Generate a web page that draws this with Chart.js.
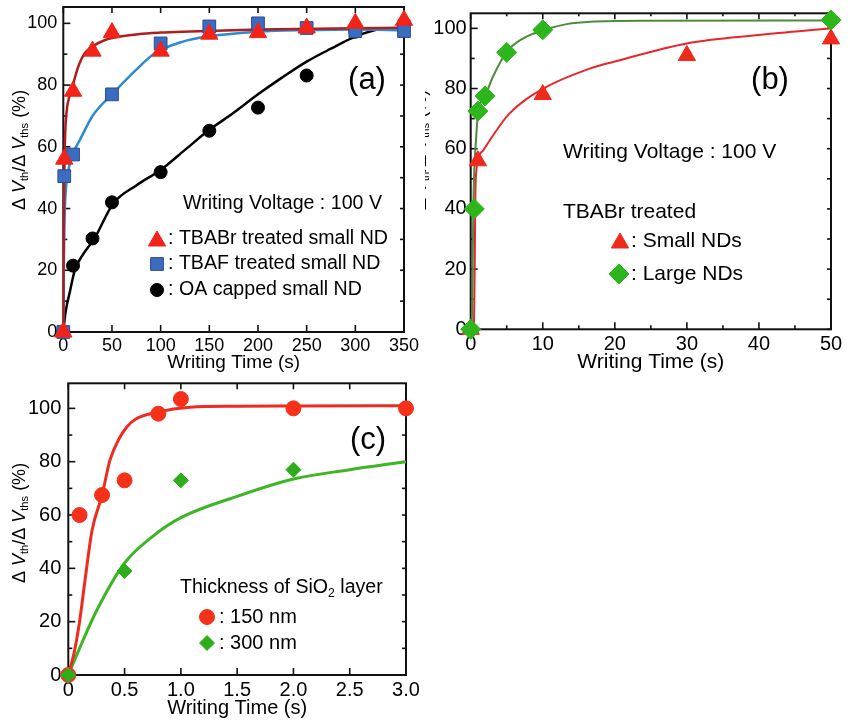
<!DOCTYPE html>
<html>
<head>
<meta charset="utf-8">
<script src="https://cdn.jsdelivr.net/npm/chart.js@4.4.0/dist/chart.umd.min.js"></script>
<style>
  html, body { margin: 0; padding: 0; background: #fff; overflow: hidden; width: 850px; height: 721px; }
  .panel { position: absolute; }
</style>
</head>
<body>
<div class="panel" id="pa" style="left:0px;top:-13px;width:435px;height:393px"><canvas id="ca"></canvas></div>
<div class="panel" id="pb" style="left:425px;top:-7px;width:435px;height:387px"><canvas id="cb"></canvas></div>
<div class="panel" id="pc" style="left:0px;top:363px;width:436px;height:358px"><canvas id="cc"></canvas></div>
<script>
// ---- panel (a) data ----
const aTBABrTime = [0, 1, 10, 30, 50, 100, 150, 200, 250, 300, 350];
const aTBABr     = [0, 56, 78, 91, 97, 91, 96.5, 97, 98.5, 100, 101];
const aTBAFTime  = [0, 1, 10, 50, 100, 150, 200, 250, 300, 350];
const aTBAF      = [0, 50.5, 57.5, 77, 93.5, 99, 100, 98.5, 97.5, 97.5];
const aOATime    = [0, 10, 30, 50, 100, 150, 200, 250, 300, 350];
const aOA        = [0, 21.5, 30.3, 42, 51.8, 65.2, 72.7, 83.1, 97.3, 100];
// fitted curves
const aFitRedTime = [0, 0.3, 0.7, 1.2, 1.7, 2.5, 4, 6, 8.6, 12, 16, 22, 30, 43, 60, 77, 100, 122, 200, 350];
const aFitRed     = [0, 20, 40, 54, 62, 68, 73, 76, 78.4, 82.5, 86.5, 90.3, 92.5, 94.6, 95.8, 96.5, 97, 97.3, 98, 98.6];
const aFitBlueTime = [0, 0.5, 1, 2, 4, 7, 10, 17, 30, 51, 75, 94, 122, 150, 200, 250, 300, 350];
const aFitBlue     = [0, 20, 33, 43, 50, 55, 58, 62.2, 70, 77.3, 85, 90.3, 94, 95.8, 97.3, 97.8, 98, 97.8];
const aFitOATime = [0, 1.7, 3.4, 6, 12, 20, 32, 51, 75, 100, 125, 150, 175, 200, 225, 250, 275, 300, 329, 350];
const aFitOA     = [0, 5, 8.3, 12, 20.2, 25, 30.3, 41.5, 47.5, 52.5, 59, 65.5, 71, 77, 82.5, 87.6, 91.8, 95.7, 98.3, 98.5];
const aXTicks = [0, 50, 100, 150, 200, 250, 300, 350];
const aYTicks = [0, 20, 40, 60, 80, 100];
const aYMinor = [10, 30, 50, 70, 90];

// ---- panel (b) data ----
const bSmallTime = [0, 1, 10, 30, 50];
const bSmall     = [0, 56, 78, 91, 96.5];
const bLargeTime = [0, 0.5, 1, 2, 5, 10, 50];
const bLarge     = [0, 40, 72.5, 77.5, 92, 99.5, 102.8];
const bFitSmallTime = [0, 0.45, 0.55, 0.65, 0.8, 1.05, 1.75, 2.7, 5.3, 10.1, 16.6, 20, 30, 40, 50];
const bFitSmall     = [0, 2, 20, 45, 53, 57, 59.5, 63, 71.5, 80, 86.7, 89, 95, 97.8, 100];
const bFitLargeTime = [0, 0.14, 0.25, 0.36, 0.5, 0.74, 1.06, 1.75, 3.1, 5, 7.3, 10.1, 13.3, 16.6, 25, 50];
const bFitLarge     = [0, 2, 15, 40, 53, 63, 72.8, 76.2, 84, 92.2, 96.7, 99.4, 101.4, 102.2, 102.5, 102.6];
const bXTicks = [0, 10, 20, 30, 40, 50];
const bXMinor = [5, 15, 25, 35, 45];
const bYTicks = [0, 20, 40, 60, 80, 100];
const bYMinor = [10, 30, 50, 70, 90];

// ---- panel (c) data ----
const c150Time = [0, 0.1, 0.3, 0.5, 0.8, 1.0, 2.0, 3.0];
const c150     = [0, 60, 67.5, 73, 98, 103.5, 100, 100];
const c300Time = [0, 0.5, 1.0, 2.0];
const c300     = [0, 39, 73, 77];
const cFit150Time = [0, 0.05, 0.1, 0.15, 0.21, 0.3, 0.37, 0.45, 0.52, 0.6, 0.785, 1.08, 1.5, 2, 3];
const cFit150     = [0, 8, 20, 36, 54, 67.5, 80.6, 88.5, 93, 96, 98.5, 100.4, 100.8, 100.9, 101];
const cFit300Time = [0, 0.1, 0.25, 0.5, 0.75, 1, 1.5, 2, 2.5, 3];
const cFit300     = [0, 10, 24, 42, 52, 59, 67, 73.5, 77, 80];
const cXTicks  = [0, 0.5, 1, 1.5, 2, 2.5, 3];
const cXLabels = ['0', '0.5', '1.0', '1.5', '2.0', '2.5', '3.0'];
const cYTicks = [0, 20, 40, 60, 80, 100];
const cYMinor = [10, 30, 50, 70, 90];

const FONT = '"Liberation Sans", Arial, Helvetica, sans-serif';

function pts(xs, ys) { return xs.map((x, i) => ({ x: x, y: ys[i] })); }

function marker(label, xs, ys, style, r, fill, border, order) {
  return {
    label: label, data: pts(xs, ys), showLine: false,
    pointStyle: style, pointRadius: r, pointHoverRadius: r,
    backgroundColor: fill, borderColor: border, pointBorderWidth: 1,
    order: order, clip: false
  };
}

function fit(xs, ys, color, width, order) {
  return {
    data: pts(xs, ys), showLine: true, pointRadius: 0, pointHoverRadius: 0,
    borderColor: color, borderWidth: width, cubicInterpolationMode: 'monotone',
    fill: false, order: order, clip: false
  };
}

function shape(ctx, style, r, x, y, fill, border) {
  ctx.fillStyle = fill;
  ctx.strokeStyle = border;
  ctx.lineWidth = 1;
  if (Chart.helpers && Chart.helpers.drawPoint) {
    Chart.helpers.drawPoint(ctx, { pointStyle: style, radius: r, borderWidth: 1, rotation: 0 }, x, y);
    return;
  }
  ctx.beginPath();
  ctx.arc(x, y, r, 0, Math.PI * 2);
  ctx.fill();
  ctx.stroke();
}

// draws text made of pieces (italic V, subscripts)
function richText(ctx, parts, size, x, y, align) {
  const fontOf = p => (p.italic ? 'italic ' : '') + (p.sub ? size * 0.62 : size) + 'px ' + FONT;
  let total = 0;
  parts.forEach(p => { ctx.font = fontOf(p); total += ctx.measureText(p.t).width; });
  let cx = align === 'center' ? x - total / 2 : x;
  ctx.textBaseline = 'middle';
  ctx.textAlign = 'left';
  parts.forEach(p => {
    ctx.font = fontOf(p);
    ctx.fillText(p.t, cx, y + (p.sub ? size * 0.3 : 0));
    cx += ctx.measureText(p.t).width;
  });
}

const yTitleParts = [
  { t: '\u0394 ' }, { t: 'V', italic: true }, { t: 'th', sub: true },
  { t: '/\u0394 ' }, { t: 'V', italic: true }, { t: 'ths', sub: true }, { t: ' (%)' }
];

const framePlugin = {
  id: 'frame',
  beforeDatasetsDraw(chart, args, o) {
    const { ctx, chartArea: a, scales: { x, y } } = chart;
    ctx.save();
    ctx.strokeStyle = '#111';
    ctx.lineWidth = 1.6;
    const xt = (vals, len, lenTop) => vals.forEach(v => {
      const px = x.getPixelForValue(v);
      ctx.beginPath(); ctx.moveTo(px, a.bottom); ctx.lineTo(px, a.bottom - len); ctx.stroke();
      ctx.beginPath(); ctx.moveTo(px, a.top); ctx.lineTo(px, a.top + lenTop); ctx.stroke();
    });
    const yt = (vals, len, lenRight) => vals.forEach(v => {
      const py = y.getPixelForValue(v);
      ctx.beginPath(); ctx.moveTo(a.left, py); ctx.lineTo(a.left + len, py); ctx.stroke();
      ctx.beginPath(); ctx.moveTo(a.right, py); ctx.lineTo(a.right - lenRight, py); ctx.stroke();
    });
    xt(o.xMajor || [], 7, 6); xt(o.xMinor || [], 4, 3);
    yt(o.yMajor || [], 7, 4); yt(o.yMinor || [], 4, 4);
    ctx.lineWidth = 2;
    ctx.strokeRect(a.left, a.top, a.right - a.left, a.bottom - a.top);
    ctx.restore();
  }
};

const notesPlugin = {
  id: 'notes',
  afterDatasetsDraw(chart, args, o) {
    const ctx = chart.ctx;
    ctx.save();
    ctx.translate(-o.ox, -o.oy);
    ctx.fillStyle = '#000';
    (o.items || []).forEach(it => {
      if (it.marker) {
        shape(ctx, it.marker, it.r, it.x, it.y, it.fill, it.border);
      } else if (it.parts) {
        ctx.fillStyle = '#000';
        richText(ctx, it.parts, it.size, it.x, it.y, it.align || 'left');
      } else {
        ctx.fillStyle = '#000';
        ctx.font = it.size + 'px ' + FONT;
        ctx.textAlign = it.align || 'left';
        ctx.textBaseline = 'middle';
        ctx.fillText(it.text, it.x, it.y);
      }
    });
    if (o.yTitle) {
      ctx.save();
      ctx.translate(o.yTitle.x, o.yTitle.y);
      ctx.rotate(-Math.PI / 2);
      ctx.fillStyle = '#000';
      richText(ctx, yTitleParts, o.yTitle.size, 0, 0, 'center');
      ctx.restore();
    }
    ctx.restore();
  }
};

function makeChart(id, cfg) {
  const xs = cfg.xTicks, ys = cfg.yTicks;
  return new Chart(document.getElementById(id), {
    type: 'scatter',
    data: { datasets: cfg.datasets },
    plugins: [framePlugin, notesPlugin],
    options: {
      responsive: true, maintainAspectRatio: false, animation: false,
      events: [],
      layout: { padding: { top: cfg.padTop, right: cfg.padRight, left: 0, bottom: 0 } },
      scales: {
        x: {
          type: 'linear', min: cfg.xMin, max: cfg.xMax,
          grid: { display: false, drawTicks: false }, border: { display: false },
          afterBuildTicks: s => { s.ticks = xs.map(v => ({ value: v })); },
          afterFit: s => { s.height = cfg.xHeight; },
          ticks: {
            color: '#000', padding: cfg.xPad, maxRotation: 0, autoSkip: false,
            font: { family: FONT, size: cfg.tickSize },
            callback: (v, i) => cfg.xLabels ? cfg.xLabels[i] : String(v)
          },
          title: {
            display: true, text: 'Writing Time (s)', color: '#000',
            font: { family: FONT, size: cfg.titleSize },
            padding: { top: 0, bottom: cfg.titlePad }
          }
        },
        y: {
          type: 'linear', min: 0, max: cfg.yMax,
          grid: { display: false, drawTicks: false }, border: { display: false },
          afterBuildTicks: s => { s.ticks = ys.map(v => ({ value: v })); },
          afterFit: s => { s.width = cfg.yWidth; },
          ticks: { color: '#000', padding: cfg.yPad, font: { family: FONT, size: cfg.tickSize } }
        }
      },
      plugins: {
        legend: { display: false },
        tooltip: { enabled: false },
        frame: cfg.frame,
        notes: cfg.notes
      }
    }
  });
}

// (a)
makeChart('ca', {
  xMin: 0, xMax: 350, yMax: 105.3, xTicks: aXTicks, yTicks: aYTicks,
  padTop: 20, padRight: 31, xHeight: 48, yWidth: 63.3,
  xPad: 3, yPad: 6, tickSize: 18, titleSize: 19, titlePad: 6,
  datasets: [
    fit(aFitOATime, aFitOA, '#000000', 2.5, 5),
    fit(aFitBlueTime, aFitBlue, '#2b8ad0', 2.5, 4),
    fit(aFitRedTime, aFitRed, '#b01e1e', 2.5, 3),
    marker('OA capped small ND', aOATime, aOA, 'circle', 6.5, '#000000', '#000000', 2),
    marker('TBAF treated small ND', aTBAFTime, aTBAF, 'rect', 9, '#3b6cc0', '#2b4a90', 1),
    marker('TBABr treated small ND', aTBABrTime, aTBABr, 'triangle', 10, '#f2231a', '#f2231a', 0)
  ],
  frame: { xMajor: aXTicks, yMajor: aYTicks, yMinor: aYMinor },
  notes: {
    ox: 0, oy: -13,
    yTitle: { x: 20, y: 150, size: 18 },
    items: [
      { text: '(a)', x: 367, y: 80, size: 31, align: 'center' },
      { text: 'Writing Voltage : 100 V', x: 183, y: 204, size: 19.6 },
      { marker: 'triangle', r: 10, x: 157, y: 241, fill: '#f2231a', border: '#f2231a' },
      { text: ': TBABr treated small ND', x: 168, y: 239, size: 19.6 },
      { marker: 'rect', r: 9, x: 157, y: 264, fill: '#3b6cc0', border: '#2b4a90' },
      { text: ': TBAF treated small ND', x: 168, y: 264, size: 19.6 },
      { marker: 'circle', r: 6.5, x: 157, y: 290, fill: '#000', border: '#000' },
      { text: ': OA capped small ND', x: 168, y: 290, size: 19.6 }
    ]
  }
});

// (b)
makeChart('cb', {
  xMin: 0, xMax: 50, yMax: 105, xTicks: bXTicks, yTicks: bYTicks,
  padTop: 20.3, padRight: 29, xHeight: 50.7, yWidth: 45.7,
  xPad: 3, yPad: 4, tickSize: 20, titleSize: 21, titlePad: 5,
  datasets: [
    fit(bFitSmallTime, bFitSmall, '#e8262a', 2, 4),
    fit(bFitLargeTime, bFitLarge, '#4f8a3f', 2, 3),
    marker('Small NDs', bSmallTime, bSmall, 'triangle', 10, '#ee2a1c', '#ee2a1c', 1),
    marker('Large NDs', bLargeTime, bLarge, 'rectRot', 10, '#2db51c', '#2db51c', 0)
  ],
  frame: { xMajor: bXTicks, xMinor: bXMinor, yMajor: bYTicks, yMinor: bYMinor },
  notes: {
    ox: 425, oy: -7,
    yTitle: { x: 421, y: 150, size: 18 },
    items: [
      { text: '(b)', x: 770, y: 80, size: 31, align: 'center' },
      { text: 'Writing Voltage : 100 V', x: 563, y: 152, size: 21 },
      { text: 'TBABr treated', x: 563, y: 212, size: 21 },
      { marker: 'triangle', r: 10, x: 620, y: 243, fill: '#ee2a1c', border: '#ee2a1c' },
      { text: ': Small NDs', x: 631, y: 241, size: 21 },
      { marker: 'rectRot', r: 10, x: 619, y: 274, fill: '#2db51c', border: '#2db51c' },
      { text: ': Large NDs', x: 631, y: 274, size: 21 }
    ]
  }
});

// (c)
makeChart('cc', {
  xMin: 0, xMax: 3, yMax: 109.4, xTicks: cXTicks, xLabels: cXLabels, yTicks: cYTicks,
  padTop: 20.3, padRight: 30, xHeight: 46, yWidth: 68.3,
  xPad: 3, yPad: 7, tickSize: 20, titleSize: 20, titlePad: 1,
  datasets: [
    fit(cFit300Time, cFit300, '#3db525', 3, 3),
    fit(cFit150Time, cFit150, '#ee2b1f', 3, 2),
    marker('150 nm', c150Time, c150, 'circle', 7.5, '#f5311a', '#f5311a', 1),
    marker('300 nm', c300Time, c300, 'rectRot', 7.5, '#2ead1a', '#2ead1a', 0)
  ],
  frame: { xMajor: cXTicks, yMajor: cYTicks, yMinor: cYMinor },
  notes: {
    ox: 0, oy: 363,
    yTitle: { x: 20, y: 523, size: 18 },
    items: [
      { text: '(c)', x: 368, y: 440, size: 31, align: 'center' },
      { parts: [{ t: 'Thickness of SiO' }, { t: '2', sub: true }, { t: ' layer' }], x: 180, y: 588, size: 19.6 },
      { marker: 'circle', r: 7.5, x: 207, y: 617, fill: '#f5311a', border: '#f5311a' },
      { text: ': 150 nm', x: 219, y: 617, size: 20 },
      { marker: 'rectRot', r: 7.5, x: 207, y: 643, fill: '#2ead1a', border: '#2ead1a' },
      { text: ': 300 nm', x: 219, y: 643, size: 20 }
    ]
  }
});
</script>
</body>
</html>
